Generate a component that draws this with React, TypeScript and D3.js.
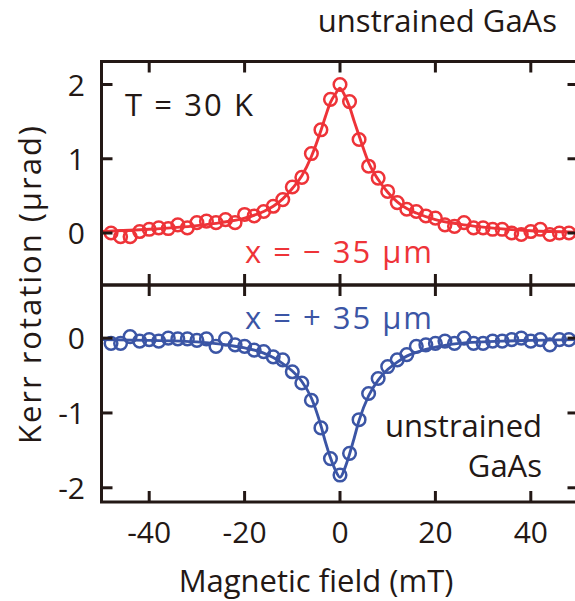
import React, { useEffect, useRef } from 'react';
import * as d3 from 'd3';

// field values (mT) of the measured points
const fieldPts = [-48, -46, -44, -42, -40, -38, -36, -34, -32, -30, -28, -26, -24, -22, -20, -18, -16, -14, -12, -10, -8, -6, -4, -2, 0, 2, 4, 6, 8, 10, 12, 14, 16, 18, 20, 22, 24, 26, 28, 30, 32, 34, 36, 38, 40, 42, 44, 46, 48];

// x = -35 um (red, top panel)
const kerrMinus = [0.0, -0.05, -0.05, 0.02, 0.05, 0.07, 0.06, 0.11, 0.07, 0.14, 0.16, 0.14, 0.18, 0.14, 0.25, 0.23, 0.29, 0.36, 0.45, 0.62, 0.75, 1.07, 1.39, 1.8, 2.0, 1.77, 1.26, 0.9, 0.74, 0.56, 0.41, 0.32, 0.29, 0.23, 0.2, 0.11, 0.09, 0.14, 0.07, 0.07, 0.05, 0.05, 0.0, -0.02, 0.02, 0.05, -0.02, 0.0, 0.0];

// x = +35 um (blue, bottom panel)
const kerrPlus = [-0.07, -0.07, 0.02, -0.04, -0.02, -0.04, 0.0, -0.01, -0.01, -0.03, -0.01, -0.11, -0.01, -0.09, -0.11, -0.16, -0.18, -0.25, -0.29, -0.45, -0.6, -0.83, -1.2, -1.61, -1.83, -1.54, -1.09, -0.74, -0.54, -0.38, -0.29, -0.22, -0.11, -0.09, -0.07, -0.04, -0.07, 0.0, -0.07, -0.07, -0.04, -0.04, -0.02, 0.0, -0.04, -0.02, -0.09, -0.02, -0.02];

// fitted curves
const fitField = [-50, -40, -30, -25, -20, -16, -14, -12, -10, -8, -6, -4, -3, -2, -1, 0, 1, 2, 3, 4, 6, 8, 10, 12, 14, 16, 20, 25, 30, 40, 50];
const fitMinus = [0.02, 0.05, 0.1, 0.14, 0.2, 0.29, 0.36, 0.46, 0.6, 0.77, 1.03, 1.38, 1.58, 1.76, 1.87, 1.95, 1.85, 1.7, 1.5, 1.31, 0.95, 0.72, 0.55, 0.42, 0.33, 0.27, 0.18, 0.12, 0.08, 0.03, 0.01];
const fitPlus = [-0.02, -0.03, -0.05, -0.08, -0.13, -0.2, -0.26, -0.34, -0.44, -0.58, -0.8, -1.17, -1.4, -1.6, -1.76, -1.86, -1.74, -1.55, -1.33, -1.1, -0.77, -0.56, -0.42, -0.32, -0.24, -0.19, -0.12, -0.07, -0.05, -0.03, -0.02];

const xTicks = [-40, -20, 0, 20, 40];
const topTicks = [0, 1, 2];
const bottomTicks = [0, -1, -2];

const INK = '#231815';
const RED = '#ee3338';
const BLUE = '#3b55a5';
const FONT = '"Open Sans", sans-serif';

export default function App() {
  const svgRef = useRef<SVGSVGElement>(null);

  useEffect(() => {
    const svg = d3.select(svgRef.current);
    if (!svg.node()) return;
    svg.selectAll('*').remove();

    const left = 101.5, right = 578.5;
    const x = d3.scaleLinear().domain([-50, 50]).range([left, right]);
    const yTop = d3.scaleLinear().domain([-0.7, 2.31]).range([285, 61.5]);
    const yBot = d3.scaleLinear().domain([-2.19, 0.71]).range([502, 285]);
    const fmt = (d: number) => String(d).replace('−', '-');

    const panels = [
      { y: yTop, ticks: topTicks, pts: kerrMinus, fit: fitMinus, color: RED },
      { y: yBot, ticks: bottomTicks, pts: kerrPlus, fit: fitPlus, color: BLUE },
    ];

    panels.forEach(p => {
      const [y0, y1] = p.y.range();
      const g = svg.append('g');

      // fit line
      const line = d3.line<number>()
        .x((_, i) => x(fitField[i]))
        .y(d => p.y(d))
        .curve(d3.curveMonotoneX);
      g.append('path')
        .datum(p.fit)
        .attr('d', line)
        .attr('fill', 'none')
        .attr('stroke', p.color)
        .attr('stroke-width', 2.9);

      // open circles
      g.selectAll('circle')
        .data(p.pts)
        .join('circle')
        .attr('cx', (_, i) => x(fieldPts[i]))
        .attr('cy', d => p.y(d))
        .attr('r', 6.3)
        .attr('fill', 'none')
        .attr('stroke', p.color)
        .attr('stroke-width', 2.5);

      // frame
      g.append('rect')
        .attr('x', left).attr('y', y1)
        .attr('width', right - left).attr('height', y0 - y1)
        .attr('fill', 'none').attr('stroke', INK).attr('stroke-width', 3);

      // x ticks on both horizontal edges, pointing inward
      xTicks.forEach(t => {
        g.append('line').attr('x1', x(t)).attr('x2', x(t)).attr('y1', y0).attr('y2', y0 - 11)
          .attr('stroke', INK).attr('stroke-width', 3);
        g.append('line').attr('x1', x(t)).attr('x2', x(t)).attr('y1', y1).attr('y2', y1 + 11)
          .attr('stroke', INK).attr('stroke-width', 3);
      });

      // y ticks left + right
      p.ticks.forEach(t => {
        g.append('line').attr('x1', left).attr('x2', left + 11).attr('y1', p.y(t)).attr('y2', p.y(t))
          .attr('stroke', INK).attr('stroke-width', 3);
        g.append('line').attr('x1', right).attr('x2', right - 11).attr('y1', p.y(t)).attr('y2', p.y(t))
          .attr('stroke', INK).attr('stroke-width', 3);
        g.append('text')
          .attr('x', 85).attr('y', p.y(t) + 11)
          .attr('text-anchor', 'end')
          .attr('font-family', FONT).attr('font-size', 30).attr('fill', INK)
          .text(fmt(t));
      });
    });

    // x tick labels
    xTicks.forEach(t => {
      svg.append('text')
        .attr('x', x(t)).attr('y', 543)
        .attr('text-anchor', 'middle')
        .attr('font-family', FONT).attr('font-size', 30).attr('fill', INK)
        .text(fmt(t));
    });

    // axis titles
    svg.append('text')
      .attr('x', 316).attr('y', 592)
      .attr('text-anchor', 'middle')
      .attr('font-family', FONT).attr('font-size', 31).attr('fill', INK)
      .text('Magnetic field (mT)');
    svg.append('text')
      .attr('transform', 'translate(41,285) rotate(-90)')
      .attr('text-anchor', 'middle')
      .attr('font-family', FONT).attr('font-size', 31).attr('fill', INK)
      .attr('textLength', 318).attr('lengthAdjust', 'spacing')
      .text('Kerr rotation (µrad)');

    // annotations
    const label = (txt: string, tx: number, ty: number, color: string, anchor = 'start', len?: number) => {
      const el = svg.append('text')
        .attr('x', tx).attr('y', ty)
        .attr('text-anchor', anchor)
        .attr('font-family', FONT).attr('font-size', 31).attr('fill', color)
        .text(txt);
      if (len) el.attr('textLength', len).attr('lengthAdjust', 'spacing');
    };
    label('unstrained GaAs', 557, 32, INK, 'end');
    label('T = 30 K', 125, 116, INK, 'start', 128);
    label('x = − 35 µm', 245, 263, RED, 'start', 187);
    label('x = + 35 µm', 245, 329, BLUE, 'start', 187);
    label('unstrained', 542, 437, INK, 'end');
    label('GaAs', 542, 477, INK, 'end');
  }, []);

  return (
    <div style={{ position: 'fixed', left: 0, top: 0, background: '#fff' }}>
      <svg ref={svgRef} width={575} height={601} style={{ display: 'block' }} />
    </div>
  );
}
